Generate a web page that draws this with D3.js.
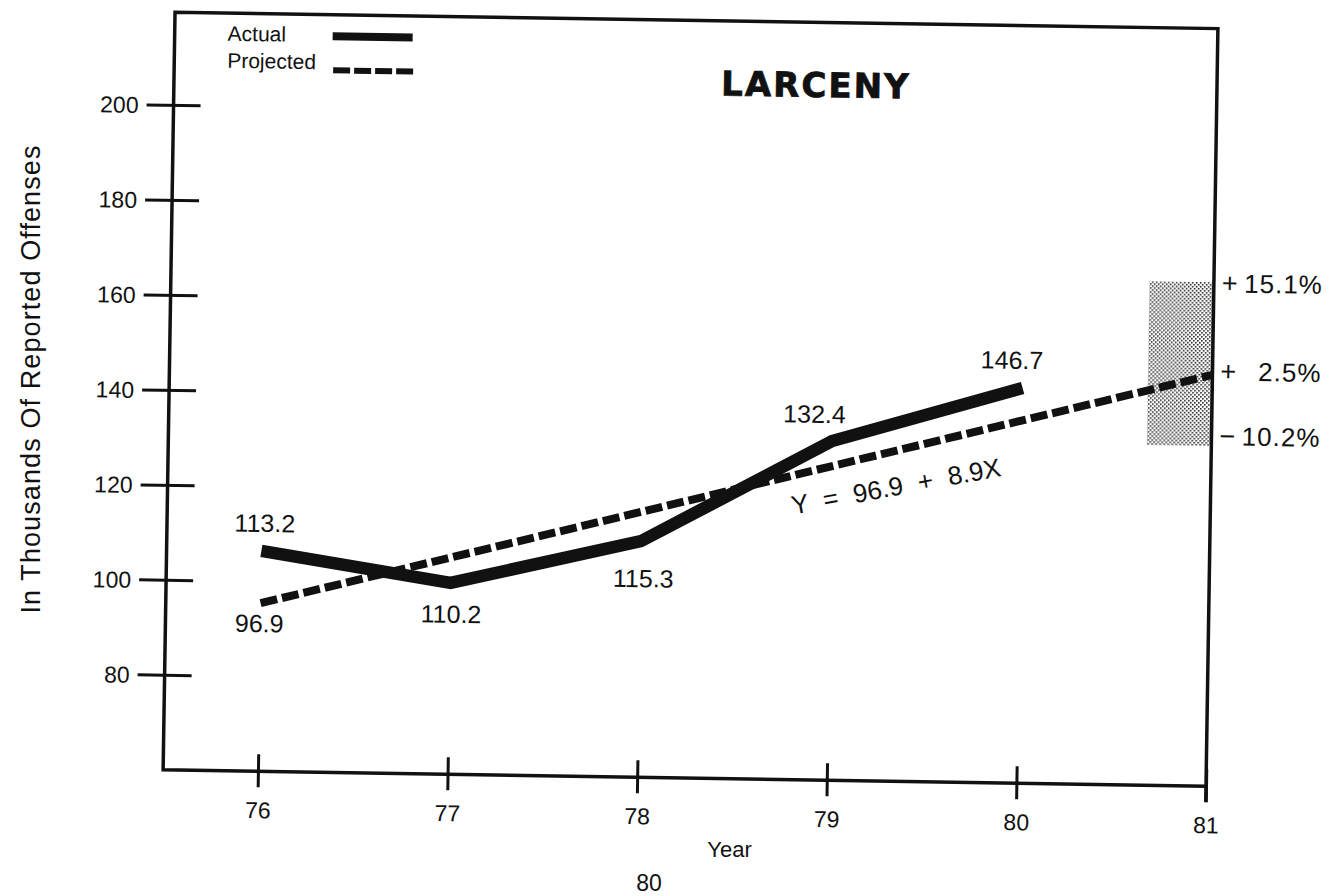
<!DOCTYPE html>
<html><head><meta charset="utf-8">
<script src="https://cdn.jsdelivr.net/npm/d3@7"></script>
<style>html,body{margin:0;padding:0;background:#fff;} svg{display:block;}</style>
</head><body><svg id="chart" width="1331" height="896"></svg>
<script>
// ---- data ----
const actualYears = [76, 77, 78, 79, 80];
const actualValues = [106.4, 100.3, 109.7, 131.4, 143.2];
const actualLabels = ["113.2", "110.2", "115.3", "132.4", "146.7"];
const projectedYears = [76, 81];
const projectedValues = [95.4, 146.6];
const projectedLabels = ["96.9"];
const bandYears = [80.66, 81];
const bandValues = [131.6, 166.1];
const bandSigns = ["+", "+", "\u2212"];
const bandPercents = ["15.1%", "2.5%", "10.2%"];
const xTicks = [76, 77, 78, 79, 80, 81];
const yTicks = [80, 100, 120, 140, 160, 180, 200];
const legendItems = ["Actual", "Projected"];
const chartTitle = "LARCENY";
const equation = "Y = 96.9 + 8.9X";
const xTitle = "Year";
const yTitle = "In Thousands Of Reported Offenses";
const pageNumber = "80";

// ---- layout ----
const INK = "#111";
const wordFont = "'Liberation Sans', Arial, sans-serif";
const svg = d3.select("#chart");
svg.append("rect").attr("width", 1331).attr("height", 896).attr("fill", "#fff");

const defs = svg.append("defs");
const pat = defs.append("pattern").attr("id", "stipple").attr("patternUnits", "userSpaceOnUse")
  .attr("width", 4).attr("height", 4);
pat.append("rect").attr("width", 4).attr("height", 4).attr("fill", "#fff");
pat.append("rect").attr("x", 0).attr("y", 0).attr("width", 1.6).attr("height", 1.6).attr("fill", "#222");
pat.append("rect").attr("x", 2).attr("y", 2).attr("width", 1.6).attr("height", 1.6).attr("fill", "#222");

const x = d3.scaleLinear().domain([75.5, 81]).range([169, 1212]);
const y = d3.scaleLinear().domain([60, 220]).range([778, 18]);

// whole scanned plate is slightly rotated
const g = svg.append("g").attr("transform", "rotate(0.9, 690, 400)");

// shaded range band
g.append("rect")
  .attr("x", x(bandYears[0])).attr("width", x(bandYears[1]) - x(bandYears[0]))
  .attr("y", y(bandValues[1])).attr("height", y(bandValues[0]) - y(bandValues[1]))
  .attr("fill", "url(#stipple)");

// frame
const fLeft = x(75.5), fRight = x(81), fTop = y(219.5), fBottom = y(60);
g.append("path")
  .attr("d", `M${fRight},${fBottom + 16} L${fRight},${fTop} L${fLeft},${fTop} L${fLeft},${fBottom} L${fRight},${fBottom}`)
  .attr("fill", "none").attr("stroke", INK).attr("stroke-width", 3.5).attr("stroke-linejoin", "miter");

// y axis
const yAxis = g.append("g").attr("transform", `translate(${fLeft},0)`)
  .call(d3.axisLeft(y).tickValues(yTicks).tickFormat(d3.format("d")).tickSize(27).tickSizeOuter(0).tickPadding(8));
yAxis.select(".domain").remove();
yAxis.selectAll(".tick line").attr("x1", 27).attr("stroke", INK).attr("stroke-width", 3);
yAxis.selectAll(".tick text").attr("font-family", wordFont)
  .attr("font-size", 23).attr("fill", INK).attr("dy", "0.35em");

// x axis
const xAxis = g.append("g").attr("transform", `translate(0,${fBottom})`)
  .call(d3.axisBottom(x).tickValues(xTicks).tickFormat(d3.format("d")).tickSize(16).tickSizeOuter(0).tickPadding(8));
xAxis.select(".domain").remove();
xAxis.selectAll(".tick line").attr("y1", -17).attr("stroke", INK).attr("stroke-width", 3);
xAxis.selectAll(".tick text").attr("font-family", wordFont)
  .attr("font-size", 23).attr("fill", INK).attr("y", 47).attr("dy", 0);

// projected (dashed) line
const projected = projectedYears.map((yr, i) => [yr, projectedValues[i]]);
const line = d3.line().x(d => x(d[0])).y(d => y(d[1]));
g.append("path").datum(projected).attr("d", line)
  .attr("fill", "none").attr("stroke", INK).attr("stroke-width", 8).attr("stroke-dasharray", "17,5");

// actual line
const actual = actualYears.map((yr, i) => [yr, actualValues[i]]);
g.append("path").datum(actual).attr("d", line)
  .attr("fill", "none").attr("stroke", INK).attr("stroke-width", 12.5)
  .attr("stroke-linejoin", "miter").attr("stroke-linecap", "butt");

// data labels
const actualOffsets = [[3, -19], [1, 40], [3, 46], [-18, -18], [-11, -19]];
g.selectAll("text.alab").data(actual).join("text").attr("class", "alab")
  .attr("x", (d, i) => x(d[0]) + actualOffsets[i][0])
  .attr("y", (d, i) => y(d[1]) + actualOffsets[i][1])
  .attr("text-anchor", "middle").attr("font-family", wordFont).attr("font-size", 25).attr("fill", INK)
  .text((d, i) => actualLabels[i]);
g.append("text")
  .attr("x", x(projectedYears[0]) - 1).attr("y", y(projectedValues[0]) + 29)
  .attr("text-anchor", "middle").attr("font-family", wordFont).attr("font-size", 25).attr("fill", INK)
  .text(projectedLabels[0]);

// regression equation
const proj = d3.scaleLinear().domain(projectedYears).range(projectedValues);
const eqYear = 79.35;
g.append("text")
  .attr("transform", `translate(${x(eqYear)},${y(proj(eqYear)) + 45}) rotate(-11.4)`)
  .attr("text-anchor", "middle").attr("font-family", wordFont).attr("font-size", 26)
  .attr("word-spacing", 8).attr("fill", INK).text(equation);

// band labels
const bandLabelY = [y(bandValues[1]) + 10, y(projectedValues[1]) + 5.5, y(bandValues[0]) - 1];
bandSigns.forEach((s, i) => {
  g.append("text").attr("x", fRight + 8).attr("y", bandLabelY[i])
    .attr("font-family", wordFont).attr("font-size", 27).attr("fill", INK).text(s);
  g.append("text").attr("x", fRight + 109).attr("y", bandLabelY[i]).attr("text-anchor", "end")
    .attr("font-family", wordFont).attr("font-size", 26).attr("letter-spacing", 1).attr("fill", INK)
    .text(bandPercents[i]);
});

// title
g.append("text").attr("x", 811).attr("y", 95).attr("text-anchor", "middle")
  .attr("font-family", "'DejaVu Sans', sans-serif").attr("font-weight", "bold")
  .attr("font-size", 34).attr("letter-spacing", 2).attr("fill", INK)
  .attr("stroke", INK).attr("stroke-width", 0.8).text(chartTitle);

// legend
const legY = [48, 75];
legendItems.forEach((t, i) => {
  g.append("text").attr("x", 222).attr("y", legY[i])
    .attr("font-family", wordFont).attr("font-size", 21).attr("fill", INK).text(t);
});
g.append("line").attr("x1", 327).attr("x2", 407).attr("y1", 42).attr("y2", 42)
  .attr("stroke", INK).attr("stroke-width", 8);
g.append("line").attr("x1", 328).attr("x2", 408).attr("y1", 76).attr("y2", 76)
  .attr("stroke", INK).attr("stroke-width", 6).attr("stroke-dasharray", "17,4");

// axis titles & page number (outside plate)
svg.append("text").attr("transform", "translate(39.5,379) rotate(-90)").attr("text-anchor", "middle")
  .attr("font-family", wordFont).attr("font-size", 27).attr("letter-spacing", 1.1).attr("fill", INK)
  .text(yTitle);
svg.append("text").attr("x", 729.5).attr("y", 857).attr("text-anchor", "middle")
  .attr("font-family", wordFont).attr("font-size", 22).attr("fill", INK)
  .text(xTitle);
svg.append("text").attr("x", 649).attr("y", 891).attr("text-anchor", "middle")
  .attr("font-family", wordFont).attr("font-size", 23).attr("fill", INK)
  .text(pageNumber);
</script>
</body></html>
